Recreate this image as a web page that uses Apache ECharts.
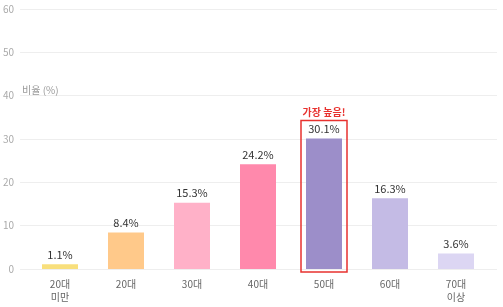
<!DOCTYPE html>
<html>
<head>
	<meta charset="utf-8">
	<title>age ratio</title>
	<script src="https://cdn.jsdelivr.net/npm/echarts@6/dist/echarts.min.js"></script>
	<style>html,body{margin:0;padding:0;background:#fff;}</style>
</head>
<body>
	<div id="main" style="height: 307px; width: 503px;"></div>
	<script type="text/javascript">
		var categories = ['20대\n미만', '20대', '30대', '40대', '50대', '60대', '70대\n이상'];
		var values = [1.1, 8.4, 15.3, 24.2, 30.1, 16.3, 3.6];
		var barColors = ['#F8DF7C', '#FFC98A', '#FFB1C8', '#FF89AC', '#9C8EC9', '#C4BBE5', '#DCD6F3'];
		var highlightIndex = 4;
		var highlightText = '가장 높음!';

		var font = '"Noto Sans CJK KR", "Noto Sans", sans-serif';
		var myChart = echarts.init(document.getElementById('main'));
		var option = {
			textStyle: { fontFamily: font },
			animation: false,
			title: {
				text: '비율 (%)',
				left: 17,
				top: 80,
				textStyle: { fontSize: 10, color: '#9a9a9a', fontWeight: 'normal', fontFamily: font }
			},
			grid: [
				{ left: 20, right: 6, top: 9, bottom: 38 },   // gridlines
				{ left: 27, right: 14, top: 9, bottom: 38 }   // bars
			],
			xAxis: [
				{ type: 'value', gridIndex: 0, show: false, min: 0, max: 1 },
				{
					type: 'category',
					gridIndex: 1,
					data: categories,
					axisLine: { show: false },
					axisTick: { show: false },
					axisLabel: { color: '#666', fontSize: 10, lineHeight: 13, margin: 9, fontFamily: font }
				}
			],
			yAxis: [
				{
					type: 'value',
					gridIndex: 0,
					min: 0, max: 60, interval: 10,
					axisLine: { show: false },
					axisTick: { show: false },
					axisLabel: { color: '#aaa', fontSize: 10, margin: 6, fontFamily: font },
					splitLine: { lineStyle: { color: '#eeeeee' } }
				},
				{ type: 'value', gridIndex: 1, min: 0, max: 60, show: false }
			],
			series: [{
				type: 'bar',
				xAxisIndex: 1,
				yAxisIndex: 1,
				barWidth: 36,
				data: values.map(function (v, i) {
					return { value: v, itemStyle: { color: barColors[i] } };
				}),
				label: {
					show: true,
					position: 'top',
					distance: 4,
					formatter: '{c}%',
					color: '#333',
					fontSize: 11,
					fontFamily: font
				}
			}]
		};
		myChart.setOption(option);

		// highlight box around the top bar
		var barTop = myChart.convertToPixel({ seriesIndex: 0 }, [highlightIndex, values[highlightIndex]]);
		var barBase = myChart.convertToPixel({ seriesIndex: 0 }, [highlightIndex, 0]);
		myChart.setOption({
			graphic: [
				{
					type: 'rect',
					shape: { x: barTop[0] - 23, y: barTop[1] - 18, width: 46, height: barBase[1] - barTop[1] + 21 },
					style: { fill: 'none', stroke: '#e8322f', lineWidth: 1.5 }
				},
				{
					type: 'text',
					x: barTop[0], y: barTop[1] - 26,
					style: { text: highlightText, fill: '#e8322f', fontSize: 10, fontWeight: 'bold', fontFamily: font, align: 'center', verticalAlign: 'middle' }
				}
			]
		});
	</script>
</body>
</html>
